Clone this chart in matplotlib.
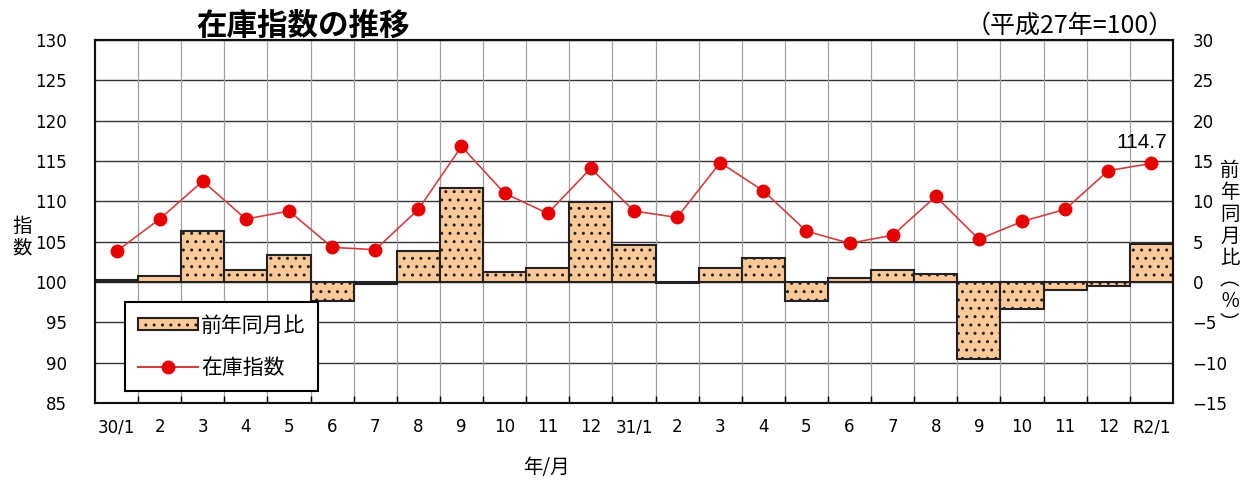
import matplotlib.pyplot as plt
from matplotlib.patches import Patch
from matplotlib.lines import Line2D

plt.rcParams['font.family'] = ['Noto Sans CJK JP', 'DejaVu Sans']
plt.rcParams['hatch.linewidth'] = 1.0

months = ['30/1', '2', '3', '4', '5', '6', '7', '8', '9', '10', '11', '12',
          '31/1', '2', '3', '4', '5', '6', '7', '8', '9', '10', '11', '12',
          'R2/1']
# 在庫指数 (left axis)
index_vals = [103.8, 107.8, 112.5, 107.8, 108.8, 104.3, 104.0, 109.0, 116.8,
              111.0, 108.5, 114.1, 108.8, 108.0, 114.8, 111.3, 106.3, 104.8,
              105.8, 110.6, 105.3, 107.5, 109.0, 113.8, 114.7]
# 前年同月比 % (right axis)
yoy_vals = [0.2, 0.8, 6.3, 1.5, 3.3, -2.3, -0.2, 3.8, 11.7, 1.3, 1.7, 9.9,
            4.6, -0.1, 1.7, 3.0, -2.4, 0.5, 1.5, 1.0, -9.6, -3.3, -1.0, -0.5,
            4.7]

x = list(range(len(months)))
bar_color = '#FDC999'
edge = '#222222'

fig = plt.figure(figsize=(12.51, 4.80), dpi=100)
ax2 = fig.add_axes([0.0759, 0.1604, 0.8617, 0.7563])   # bars, right scale
ax = ax2.twinx()                                      # line, left scale
ax.yaxis.tick_left()
ax2.yaxis.tick_right()
ax.set_zorder(ax2.get_zorder() + 1)
ax.patch.set_visible(False)

ax2.bar(x, yoy_vals, width=1.0, bottom=0, color=bar_color,
        edgecolor=edge, linewidth=1.5, hatch='..', zorder=3)
ax2.set_ylim(-15, 30)
ax2.set_yticks(range(-15, 31, 5))
ax2.set_xlim(-0.5, len(months) - 0.5)

# grid
for yv in range(-15, 31, 5):
    ax2.axhline(yv, color='#333333', linewidth=1.0, zorder=1)
for xv in x[1:]:
    ax2.axvline(xv - 0.5, color='#A0A0A0', linewidth=0.9, zorder=1)

ax.plot(x, index_vals, color='#D04040', linewidth=1.2, marker='o',
        markersize=9, markerfacecolor='#E60000', markeredgecolor='#E60000',
        zorder=5)
ax.set_ylim(85, 130)
ax.set_yticks(range(85, 131, 5))
ax.set_xlim(-0.5, len(months) - 0.5)

ax.annotate(f'{index_vals[-1]:.1f}', (x[-1], index_vals[-1]),
            xytext=(-7, 15), textcoords='offset points', ha='center',
            va='center', fontsize=15, family=['Liberation Sans'])

ax2.set_xticks(x)
ax2.set_xticklabels(months)
ax2.set_xticks([v - 0.5 for v in x[1:]], minor=True)
ax2.tick_params(axis='x', which='major', length=0, pad=11,
                labelsize=12, labelfontfamily='DejaVu Sans')
ax2.tick_params(axis='x', which='minor', direction='in', length=5, width=1)
ax2.tick_params(axis='y', length=0, pad=14, labelsize=12,
                labelfontfamily='DejaVu Sans')
ax.tick_params(axis='y', length=0, pad=20, labelsize=12,
               labelfontfamily='DejaVu Sans')

for a in (ax, ax2):
    for s in a.spines.values():
        s.set_linewidth(1.5)
        s.set_color('#111111')

# axis titles
fig.text(0.0176, 0.506, '指\n数', fontsize=14, ha='center', va='center',
         linespacing=1.0)
fig.text(0.983, 0.485, '前\n年\n同\n月\n比\n︵\n％\n︶', fontsize=14,
         ha='center', va='center', linespacing=1.05)
fig.text(0.437, 0.027, '年/月', fontsize=14, ha='center', va='center')

fig.text(0.242, 0.946, '在庫指数の推移', fontsize=22, fontweight='bold',
         ha='center', va='center')
fig.text(0.855, 0.946, '（平成27年=100）', fontsize=18, ha='center',
         va='center')

handles = [Patch(facecolor=bar_color, edgecolor=edge, hatch='..',
                 linewidth=1.5),
           Line2D([], [], color='#D04040', marker='o', markersize=9,
                  markerfacecolor='#E60000', markeredgecolor='#E60000')]
leg = ax.legend(handles, ['前年同月比', '在庫指数'], loc='lower left',
                bbox_to_anchor=(0.028, 0.033), borderaxespad=0, fontsize=15,
                fancybox=False, framealpha=1, edgecolor='black',
                handlelength=2.9, handleheight=0.5, labelspacing=0.95,
                borderpad=0.6, handletextpad=0.15)
leg.get_frame().set_linewidth(1.5)

fig.savefig('out.png', dpi=100)
